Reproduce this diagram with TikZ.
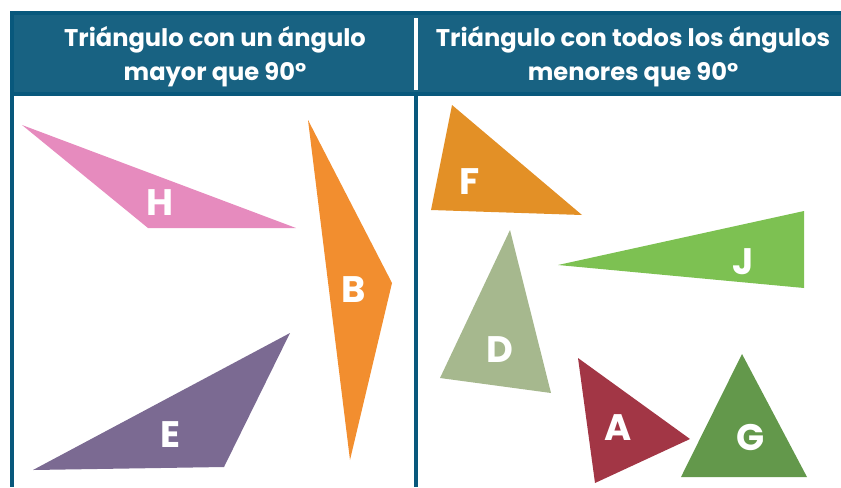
\documentclass[tikz,border=0pt]{standalone}
\usepackage{fontspec}
\setmainfont{Poppins}
\usetikzlibrary{positioning}
\definecolor{headblue}{RGB}{24,98,130}
\definecolor{edgeblue}{RGB}{8,88,124}
\definecolor{tripink}{RGB}{230,139,190}
\definecolor{triorange}{RGB}{242,142,47}
\definecolor{tripurple}{RGB}{123,106,146}
\definecolor{trigold}{RGB}{227,144,38}
\definecolor{trilime}{RGB}{125,193,82}
\definecolor{trisage}{RGB}{166,184,142}
\definecolor{trired}{RGB}{162,54,69}
\definecolor{trigreen}{RGB}{99,152,75}
\tikzstyle{header} = [text=white, 
font=\bfseries\fontsize{13.75}{19.5}\selectfont, 
align=center]
\tikzstyle{letter} = [text=white, 
font=\bfseries\fontsize{21}{21}\selectfont]
\tikzstyle{rule} = [draw=edgeblue, line width=4pt*0.567]

\begin{document}
\begin{tikzpicture}[x=0.02cm, y=-0.02cm]
\useasboundingbox (0,0) rectangle (841,487);

% table frame
\fill[headblue] (10,12) rectangle (841,94);
\draw[rule] (12,12) -- (12,487);
\draw[rule] (10,13) -- (841,13);
\draw[rule] (10,94) -- (841,94);
\draw[rule] (416,94) -- (416,487);
\draw[white, line width=4pt*0.567] (416,18) -- (416,90);

\node (left) [header] at (215,57) {Triángulo con un ángulo\\ mayor que 90°};
\node (right) [header] at (633,57) {Triángulo con todos los ángulos\\ menores que 90°};

% obtuse triangles
\fill[tripink] (22,125) -- (296,228) -- (148,228) -- cycle;
\fill[triorange] (308,120) -- (392,283) -- (350,460) -- cycle;
\fill[tripurple] (33,470) -- (290,333) -- (224,467) -- cycle;
\node (H) [letter] at (160,203) {H};
\node (B) [letter] at (354,290) {B};
\node (E) [letter] at (170,435) {E};

% acute triangles
\fill[trigold] (452,105) -- (582,215) -- (431,210) -- cycle;
\fill[trilime] (558,265) -- (804,211) -- (804,288) -- cycle;
\fill[trisage] (510,230) -- (551,393) -- (440,378) -- cycle;
\fill[trired] (578,358) -- (690,439) -- (595,483) -- cycle;
\fill[trigreen] (742,354) -- (807,477) -- (681,477) -- cycle;
\node (F) [letter] at (470,182) {F};
\node (J) [letter] at (743,262) {J};
\node (D) [letter] at (500,350) {D};
\node (A) [letter] at (618,428) {A};
\node (G) [letter] at (751,437) {G};

\end{tikzpicture}
\end{document}
